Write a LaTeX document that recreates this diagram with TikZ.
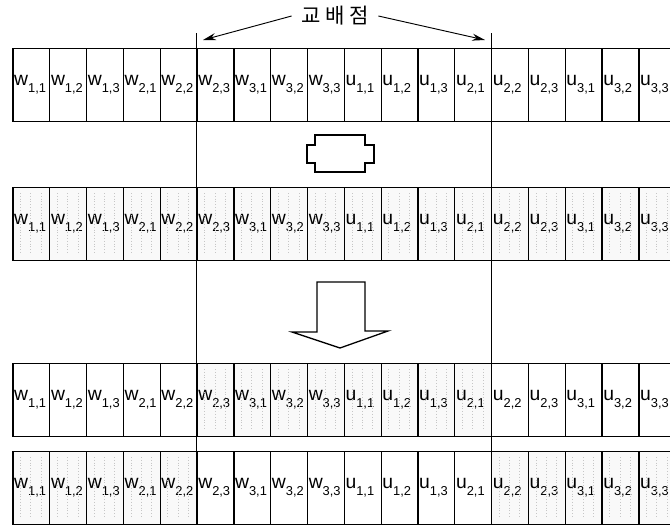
\documentclass[tikz,border=0pt]{standalone}
\usepackage{fontspec}
\setmainfont{Liberation Sans}
\newfontfamily\kofont{Noto Sans CJK KR}
\usetikzlibrary{arrows.meta}
\newcommand\gsub[2]{#1\raisebox{-6pt}{\fontsize{11}{12}\selectfont #2}}

\begin{document}
\begin{tikzpicture}[x=0.03cm,y=-0.03cm,
  cell/.style={draw,line width=1.1pt,fill=#1,anchor=north west,
    minimum width=1.1046cm,minimum height=2.19cm,
    inner xsep=1pt,inner ysep=0pt,text width=1.03cm,align=left,
    font=\fontsize{16.5}{18}\selectfont},
  texture/.style={gray!45,dotted,line width=0.4pt},
  cutline/.style={line width=0.8pt},
  bigsym/.style={draw,line width=1.1pt,fill=white,line join=miter}]
  \useasboundingbox (0,0) rectangle (670,525);

  % four chromosomes, 18 genes each; shaded genes come from the second parent
  \foreach \r/\top in {1/48,2/187,3/363,4/451}{
    \foreach \v/\s [count=\k from 0] in {w/{1,1},w/{1,2},w/{1,3},w/{2,1},w/{2,2},
        w/{2,3},w/{3,1},w/{3,2},w/{3,3},u/{1,1},u/{1,2},u/{1,3},u/{2,1},
        u/{2,2},u/{2,3},u/{3,1},u/{3,2},u/{3,3}}{
      \pgfmathtruncatemacro\sh{(\r==2) || (\r==3 && \k>4 && \k<13) || (\r==4 && (\k<5 || \k>12))}
      \ifnum\sh=1 \def\cfill{gray!5}\else\def\cfill{white}\fi
      \node[cell=\cfill] (r\r c\k) at ({12.3+36.82*\k},\top) {\gsub{\v}{\s}};
      \ifnum\sh=1
        \foreach \f in {0.22,0.5,0.78}
          \draw[texture] ({12.3+36.82*(\k+\f)},\top+6) -- ++(0,61);
      \fi
    }
  }

  % crossover points
  \coordinate (cutLtop) at (196.4,33);
  \coordinate (cutLbot) at (196.4,523);
  \coordinate (cutRtop) at (491,33);
  \coordinate (cutRbot) at (491,523);
  \draw[cutline] (cutLtop) -- (cutLbot);
  \draw[cutline] (cutRtop) -- (cutRbot);

  \node[font=\kofont\fontsize{18}{20}\selectfont,inner xsep=8pt,inner ysep=2pt]
    (xover) at (335,16) {교\hspace{4pt}배\hspace{4pt}점};
  \coordinate (tipL) at (203,40);
  \coordinate (tipR) at (485,40);
  \draw[cutline,-{Stealth[length=11pt,width=6pt]}] (xover.west) -- (tipL);
  \draw[cutline,-{Stealth[length=11pt,width=6pt]}] (xover.east) -- (tipR);

  % crossing symbol and result arrow
  \draw[bigsym] (315,135) -- (365,135) -- (365,145) -- (374,145) -- (374,163)
    -- (365,163) -- (365,172) -- (315,172) -- (315,163) -- (307,163)
    -- (307,145) -- (315,145) -- cycle;
  \draw[bigsym] (317,282) -- (365,282) -- (365,331) -- (388,331) -- (340,348)
    -- (292,332) -- (317,332) -- cycle;
\end{tikzpicture}
\end{document}
